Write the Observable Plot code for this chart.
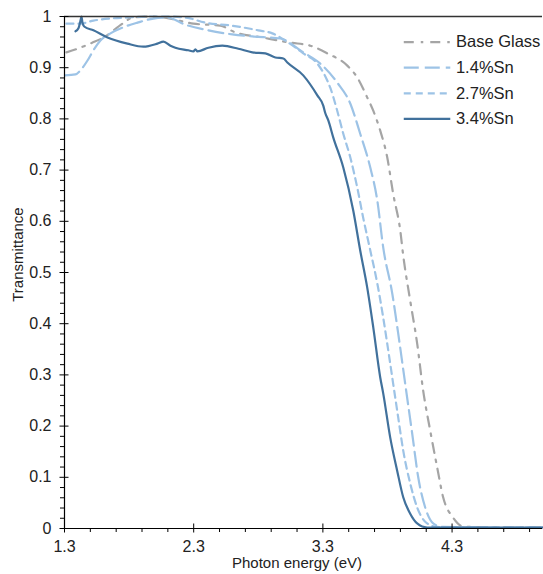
<!DOCTYPE html>
<html>
<head>
<meta charset="utf-8">
<script src="https://cdn.jsdelivr.net/npm/d3@7"></script>
<script src="https://cdn.jsdelivr.net/npm/@observablehq/plot@0.6"></script>
<style>
  html, body { margin: 0; padding: 0; background: #fff; }
  #chart svg { display: block; }
</style>
</head>
<body>
<div id="chart"></div>
<script>
// Transmittance spectra of the base glass and the Sn-doped glasses
const seriesNames = ["Base Glass", "1.4%Sn", "2.7%Sn", "3.4%Sn"];

const baseE = [1.315, 1.40, 1.517, 1.602, 1.749, 1.826, 1.965, 2.066, 2.298, 2.506, 2.622, 2.831, 3.048, 3.203, 3.334, 3.489, 3.566, 3.643, 3.690, 3.744, 3.798, 3.844, 3.899, 3.922, 3.976, 4.030, 4.076, 4.131, 4.185, 4.231, 4.309, 4.386, 4.6, 5.0];
const baseT = [0.930, 0.937, 0.949, 0.959, 0.986, 0.998, 1.000, 0.998, 0.986, 0.982, 0.969, 0.959, 0.949, 0.943, 0.928, 0.904, 0.881, 0.842, 0.816, 0.777, 0.725, 0.654, 0.582, 0.533, 0.445, 0.361, 0.270, 0.191, 0.119, 0.061, 0.021, 0.004, 0.002, 0.002];

const sn14E = [1.305, 1.385, 1.424, 1.478, 1.524, 1.578, 1.656, 1.756, 1.865, 1.988, 2.097, 2.236, 2.414, 2.599, 2.754, 2.971, 3.148, 3.280, 3.411, 3.512, 3.589, 3.667, 3.721, 3.767, 3.837, 3.883, 3.937, 3.991, 4.038, 4.092, 4.154, 4.231, 4.6, 5.0];
const sn14T = [0.885, 0.887, 0.895, 0.914, 0.934, 0.953, 0.967, 0.979, 0.988, 0.996, 0.998, 0.984, 0.973, 0.965, 0.961, 0.957, 0.930, 0.908, 0.871, 0.830, 0.771, 0.705, 0.641, 0.549, 0.459, 0.381, 0.283, 0.186, 0.100, 0.041, 0.010, 0.003, 0.002, 0.002];

const sn27E = [1.315, 1.424, 1.524, 1.656, 1.787, 1.965, 2.081, 2.236, 2.390, 2.599, 2.800, 2.909, 3.009, 3.148, 3.257, 3.334, 3.357, 3.411, 3.458, 3.512, 3.566, 3.612, 3.667, 3.721, 3.767, 3.806, 3.844, 3.883, 3.922, 3.976, 4.030, 4.107, 4.185, 4.6, 5.0];
const sn27T = [0.986, 0.986, 0.992, 0.996, 0.998, 1.000, 1.000, 0.998, 0.988, 0.982, 0.973, 0.967, 0.953, 0.928, 0.908, 0.875, 0.861, 0.816, 0.771, 0.725, 0.666, 0.607, 0.543, 0.479, 0.412, 0.348, 0.283, 0.217, 0.152, 0.088, 0.041, 0.010, 0.003, 0.002, 0.002];

const sn34E = [1.385, 1.408, 1.424, 1.431, 1.439, 1.455, 1.524, 1.633, 1.787, 1.911, 2.019, 2.066, 2.120, 2.158, 2.259, 2.298, 2.313, 2.329, 2.414, 2.522, 2.646, 2.754, 2.855, 2.932, 2.994, 3.025, 3.148, 3.257, 3.303, 3.319, 3.342, 3.380, 3.458, 3.535, 3.589, 3.643, 3.690, 3.744, 3.767, 3.821, 3.875, 3.922, 3.976, 4.030, 4.107, 4.4, 5.0];
const sn34T = [0.971, 0.977, 0.992, 1.000, 0.988, 0.980, 0.973, 0.959, 0.947, 0.941, 0.947, 0.951, 0.943, 0.939, 0.934, 0.932, 0.936, 0.932, 0.939, 0.943, 0.937, 0.930, 0.928, 0.920, 0.918, 0.910, 0.885, 0.846, 0.826, 0.811, 0.797, 0.764, 0.705, 0.621, 0.543, 0.471, 0.393, 0.295, 0.264, 0.178, 0.113, 0.061, 0.029, 0.010, 0.002, 0.002, 0.002];

const xTickLabels = [1.3, 2.3, 3.3, 4.3];
const yTickLabels = [0, 0.1, 0.2, 0.3, 0.4, 0.5, 0.6, 0.7, 0.8, 0.9, 1];

const toRows = (E, T) => E.map((e, i) => ({e, t: T[i]}));
const series = [
  {name: seriesNames[0], rows: toRows(baseE, baseT), stroke: "#a5a5a5", dash: "10,7,2.5,7"},
  {name: seriesNames[1], rows: toRows(sn14E, sn14T), stroke: "#9dc3e6", dash: "15,6"},
  {name: seriesNames[2], rows: toRows(sn27E, sn27T), stroke: "#9dc3e6", dash: "7,5"},
  {name: seriesNames[3], rows: toRows(sn34E, sn34T), stroke: "#41719c", dash: null}
];

// minor tick positions
const xMinor = d3.range(1.5, 5.0, 0.2).map(v => +v.toFixed(2)).filter(v => !xTickLabels.some(t => Math.abs(t - v) < 1e-6));
const yMinor = d3.range(0.02, 1.0, 0.02).map(v => +v.toFixed(2)).filter(v => !yTickLabels.some(t => Math.abs(t - v) < 1e-6));

// legend placement inside the plot (data units)
const legendX1 = 3.93, legendX2 = 4.29, legendTextX = 4.33;
const legendRows = series.map((s, i) => ({...s, ly: 0.95 - 0.05 * i}));

const font = "'Liberation Sans', Arial, sans-serif";
const ink = "#222";

const chart = Plot.plot({
  width: 543,
  height: 574,
  marginTop: 16,
  marginBottom: 46,
  marginLeft: 64,
  marginRight: 1,
  style: {fontFamily: font, fontSize: "15px", color: ink, background: "#fff"},
  x: {domain: [1.3, 5.0], axis: null},
  y: {domain: [0, 1], axis: null},
  marks: [
    // data curves
    ...series.map(s => Plot.line(s.rows, {
      x: "e", y: "t", stroke: s.stroke, strokeWidth: 2.2,
      strokeDasharray: s.dash, curve: "monotone-x"
    })),
    // frame lines
    Plot.ruleY([1], {stroke: "#333", strokeWidth: 1.6}),
    Plot.ruleY([0], {stroke: "#000", strokeWidth: 1.2}),
    Plot.ruleX([1.3], {stroke: "#000", strokeWidth: 1.2}),
    // x axis: crossing major ticks, outward minor ticks, labels
    Plot.axisX(xTickLabels, {anchor: "bottom", label: null, tickSize: 9, dy: -4.5, tickFormat: () => "", stroke: "#000"}),
    Plot.axisX(xMinor, {anchor: "bottom", label: null, tickSize: 4, tickFormat: () => "", stroke: "#000"}),
    Plot.axisX(xTickLabels, {anchor: "bottom", label: null, tickSize: 0, tickPadding: 12, tickFormat: d3.format(".1f"), fill: ink, fontSize: 16}),
    // y axis
    Plot.axisY(yTickLabels, {anchor: "left", label: null, tickSize: 9, dx: 4.5, tickFormat: () => "", stroke: "#000"}),
    Plot.axisY(yMinor, {anchor: "left", label: null, tickSize: 4, tickFormat: () => "", stroke: "#000"}),
    Plot.axisY(yTickLabels, {anchor: "left", label: null, tickSize: 0, tickPadding: 13, tickFormat: d => String(d), fill: ink, fontSize: 16}),
    // axis titles
    Plot.text(["Photon energy (eV)"], {x: 3.1, y: 0, dy: 35, text: d => d, fill: ink, fontSize: 15, textAnchor: "middle"}),
    Plot.text(["Transmittance"], {x: 1.3, y: 0.535, dx: -46, rotate: -90, text: d => d, fill: ink, fontSize: 15, textAnchor: "middle"}),
    // legend
    ...legendRows.map(s => Plot.ruleY([s], {
      y: "ly", x1: legendX1, x2: legendX2, stroke: s.stroke, strokeWidth: 2.2, strokeDasharray: s.dash
    })),
    Plot.text(legendRows, {x: legendTextX, y: "ly", text: "name", textAnchor: "start", fill: ink, fontSize: 16.5})
  ]
});

document.getElementById("chart").appendChild(chart);
</script>
</body>
</html>
